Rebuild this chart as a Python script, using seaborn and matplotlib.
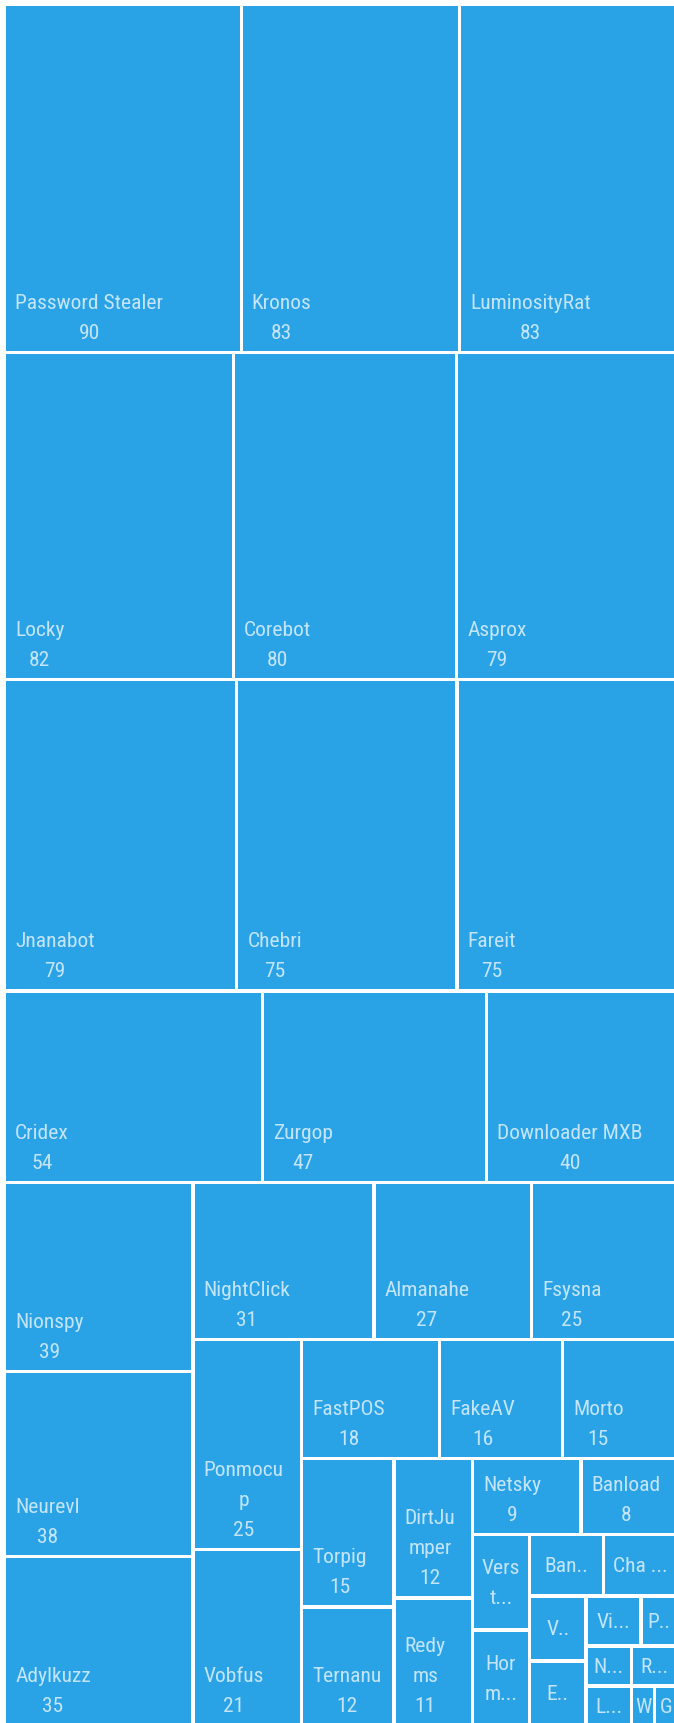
import matplotlib
matplotlib.use("Agg")
import matplotlib.pyplot as plt
from matplotlib import font_manager
from matplotlib.patches import Rectangle
import pandas as pd
import seaborn as sns

# Malware families and their counts (largest first, ties in listed order)
families = [
    "Password Stealer", "Kronos", "LuminosityRat",
    "Locky", "Corebot", "Asprox",
    "Jnanabot", "Chebri", "Fareit",
    "Cridex", "Zurgop", "Downloader MXB",
    "Nionspy", "Neurevl", "Adylkuzz",
    "NightClick", "Almanahe", "Fsysna",
    "Ponmocu\np", "Vobfus",
    "FastPOS", "FakeAV", "Morto",
    "Torpig", "Ternanu",
    "DirtJu\nmper", "Redy\nms",
    "Netsky", "Banload",
    "Vers\nt...", "Hor\nm...",
    "Ban..", "Cha ...",
    "V..", "E..",
    "Vi...", "P..",
    "N...", "L...", "R...",
    "W", "G",
]
counts = [
    90, 83, 83,
    82, 80, 79,
    79, 75, 75,
    54, 47, 40,
    39, 38, 35,
    31, 27, 25,
    25, 21,
    18, 16, 15,
    15, 12,
    12, 11,
    9, 8,
    6, 6,
    5, 5,
    4, 4,
    3, 2,
    2, 2, 2,
    1, 1,
]

# number of tiles placed in each successive strip of the treemap
strip_sizes = [3, 3, 3, 3, 3, 3, 2, 3, 2, 2, 2, 2, 2, 2, 2, 2, 1, 1, 1]

TILE_COLOR = "#2AA3E6"
LABEL_COLOR = (1.0, 1.0, 1.0, 0.72)
MIN_VALUE_SHOWN = 8


def strip_treemap(vals, sizes, x0, y0, x1, y1):
    """Squarified-style tiling: each strip runs along the shorter side
    of the space that is still free."""
    rects = []
    remaining = float(sum(vals))
    i = 0
    for g in sizes:
        row = vals[i:i + g]
        s = float(sum(row))
        dx, dy = x1 - x0, y1 - y0
        if dx < dy:
            yb = y0 + dy * s / remaining
            x = x0
            for v in row:
                w = dx * v / s
                rects.append((x, y0, x + w, yb))
                x += w
            y0 = yb
        else:
            xb = x0 + dx * s / remaining
            y = y0
            for v in row:
                h = dy * v / s
                rects.append((x0, y, xb, y + h))
                y += h
            x0 = xb
        remaining -= s
        i += g
    return rects


df = pd.DataFrame({"family": families, "count": counts})
df = df.sort_values("count", ascending=False, kind="stable").reset_index(drop=True)

sns.set_theme(style="white")
avail = {f.name for f in font_manager.fontManager.ttflist}
label_family = "DejaVu Sans"
for fam in ["Liberation Sans Narrow", "Roboto Condensed", "DejaVu Sans"]:
    if fam in avail:
        label_family = fam
        break
plt.rcParams["font.family"] = [label_family, "DejaVu Sans"]

W_PX, H_PX = 674, 1724
fig = plt.figure(figsize=(W_PX / 100, H_PX / 100), dpi=100)
ax = fig.add_axes([0, 0, 1, 1])
ax.set_xlim(0, W_PX)
ax.set_ylim(H_PX, 0)
ax.axis("off")

# plotting area of the treemap (pixels); it runs a little past the canvas
area = (4.5, 5.5, 677.5, 1727.0)
rects = strip_treemap(df["count"].tolist(), strip_sizes, *area)

pad = 1.6          # half of the white gap between tiles
font_px = 21.5
line_px = 26.0
fp = font_manager.FontProperties(family=[label_family, "DejaVu Sans"], size=font_px * 0.72)
renderer = fig.canvas.get_renderer()
_, lp_h, lp_d = renderer.get_text_width_height_descent("lp", fp, ismath=False)
spacing = line_px / (lp_h - lp_d)

for (x0, y0, x1, y1), name, val in zip(rects, df["family"], df["count"]):
    tx0, ty0, tx1, ty1 = x0 + pad, y0 + pad, x1 - pad, y1 - pad
    ax.add_patch(Rectangle((tx0, ty0), tx1 - tx0, ty1 - ty0,
                           facecolor=TILE_COLOR, edgecolor="none"))
    if val >= MIN_VALUE_SHOWN:
        ax.text(tx0 + 9, ty1 - 9, f"{name}\n{val}", fontproperties=fp,
                color=LABEL_COLOR, ha="left", va="bottom",
                multialignment="center", linespacing=spacing)
    else:
        ax.text((tx0 + tx1) / 2, (ty0 + ty1) / 2, name, fontproperties=fp,
                color=LABEL_COLOR, ha="center", va="center",
                multialignment="center", linespacing=spacing)

fig.savefig("out.png", dpi=100, facecolor="white")
